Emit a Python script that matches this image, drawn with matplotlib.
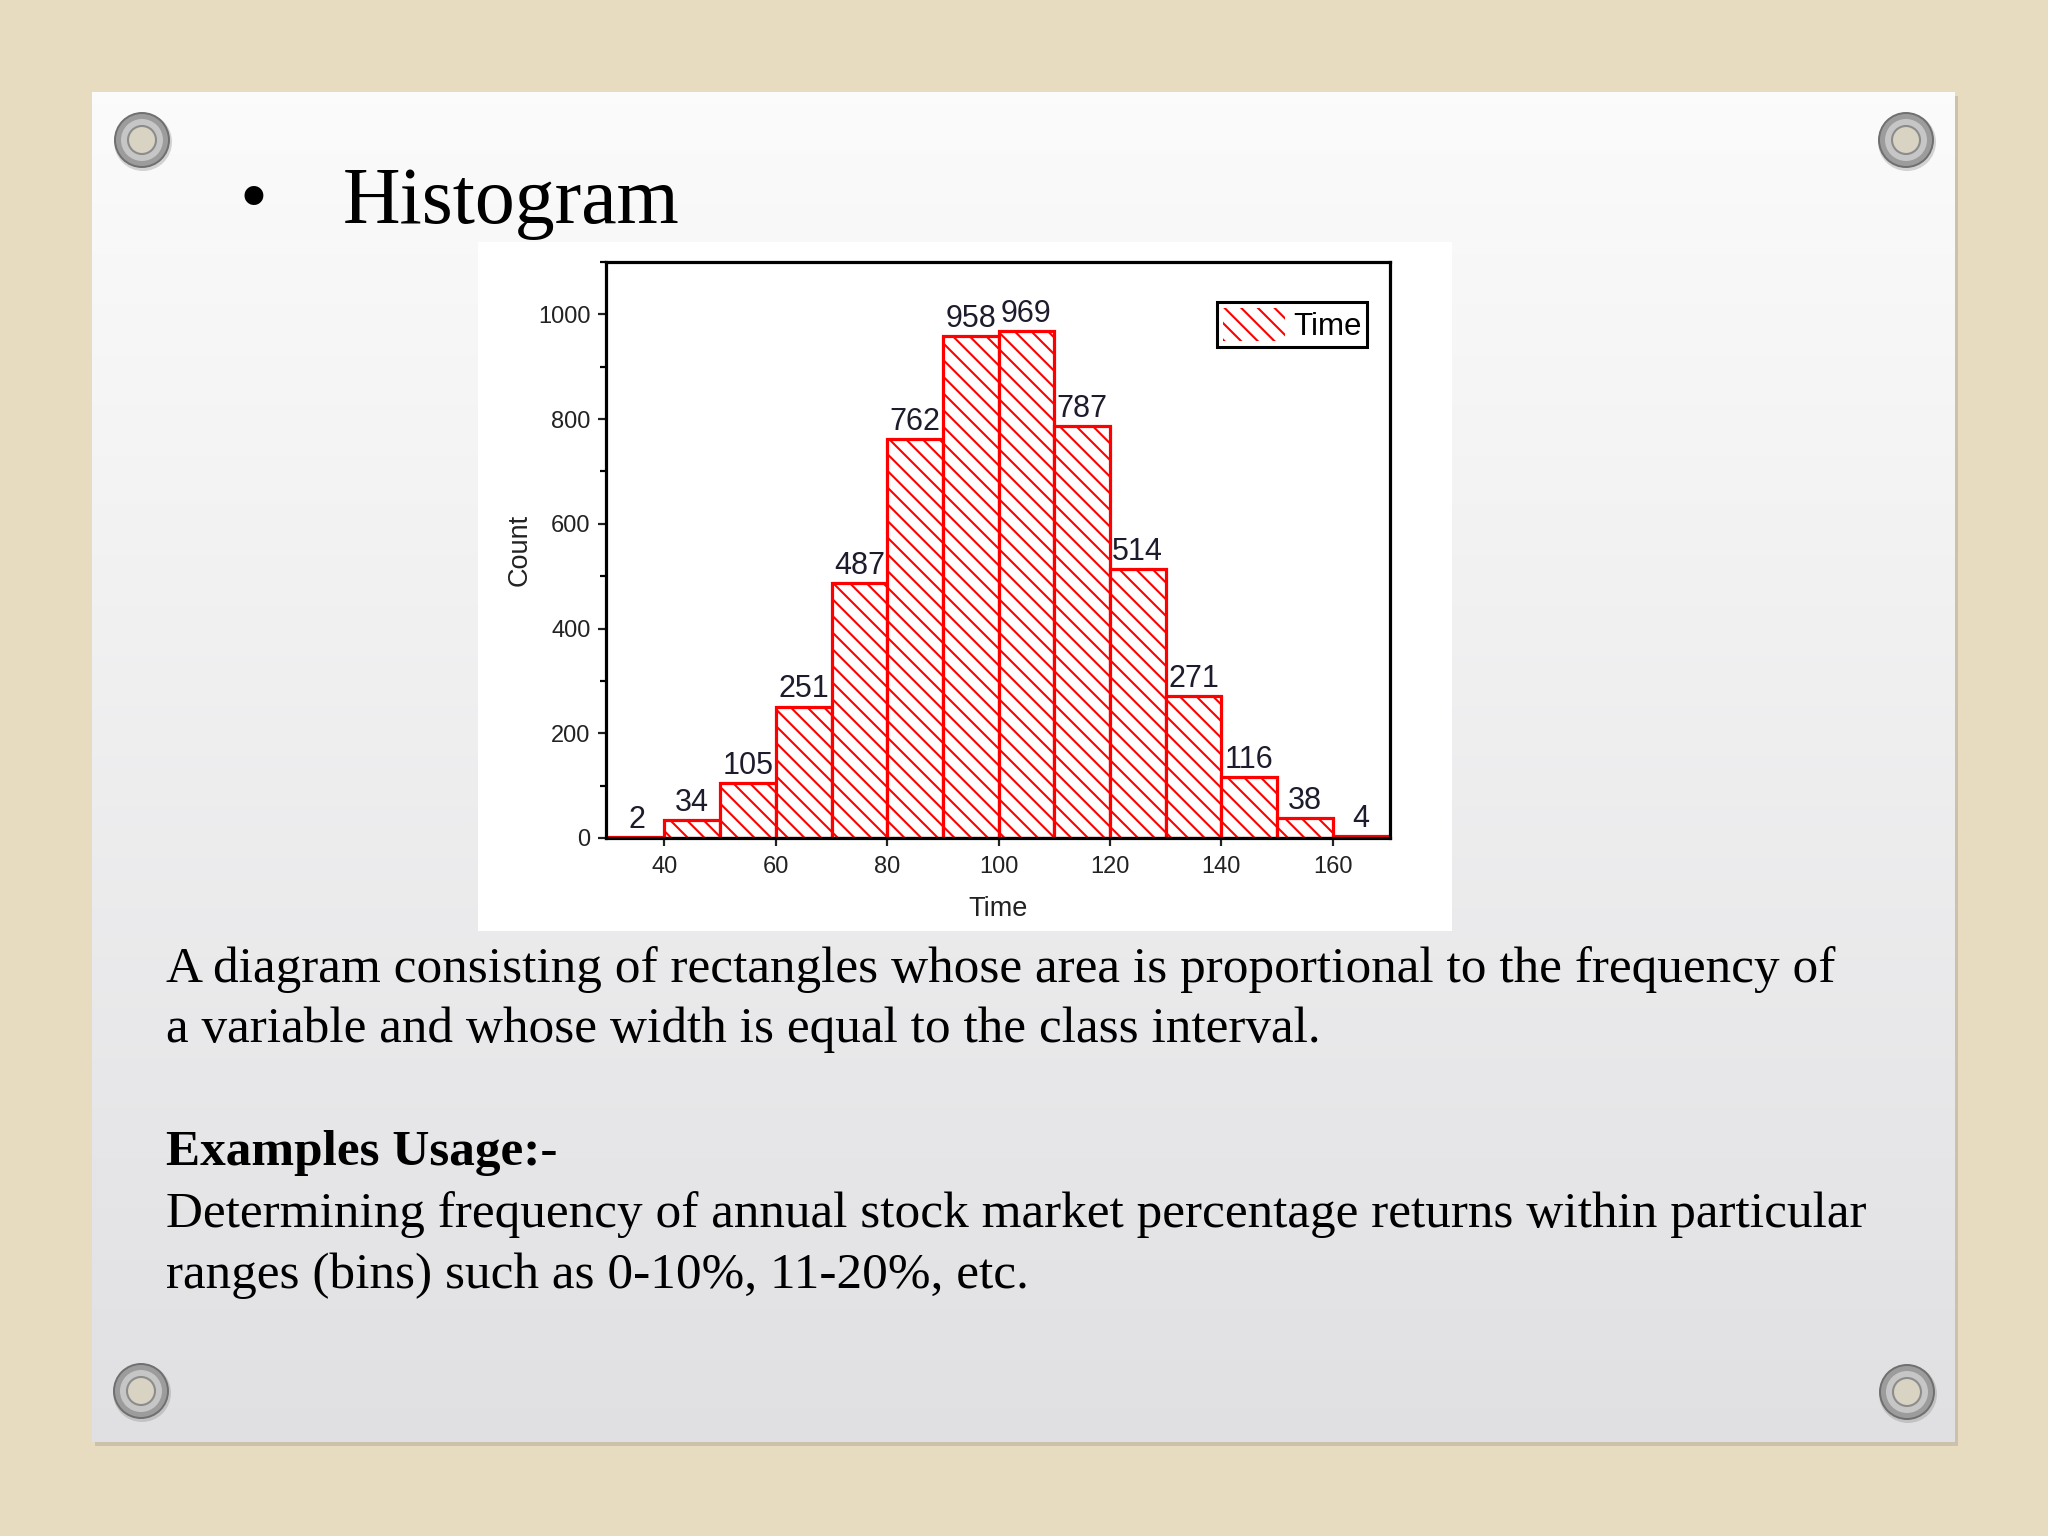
#!/usr/bin/env python3
"""Slide with a hatched histogram of Time counts."""

import matplotlib

matplotlib.use("Agg")
import matplotlib.pyplot as plt
import numpy as np
from matplotlib.patches import Circle, Patch, Rectangle

# --- data -------------------------------------------------------------
bin_left = [30, 40, 50, 60, 70, 80, 90, 100, 110, 120, 130, 140, 150, 160]
bin_width = 10
counts = [2, 34, 105, 251, 487, 762, 958, 969, 787, 514, 271, 116, 38, 4]
x_ticks = [40, 60, 80, 100, 120, 140, 160]
y_ticks = [0, 200, 400, 600, 800, 1000]

title = "Histogram"
body_lines = [
    "A diagram consisting of rectangles whose area is proportional to the frequency of",
    "a variable and whose width is equal to the class interval.",
]
usage_head = "Examples Usage:-"
usage_lines = [
    "Determining frequency of annual stock market percentage returns within particular",
    "ranges (bins) such as 0-10%, 11-20%, etc.",
]

W, H = 2048, 1536
SERIF = "Liberation Serif"
SANS = "Liberation Sans"
RED = "#ff0000"
BODY_SIZE = 36.9

plt.rcParams["hatch.linewidth"] = 1.5

fig = plt.figure(figsize=(W / 100, H / 100), dpi=100)
fig.patch.set_facecolor("#e7dcc0")

# background layer in pixel coordinates
bg = fig.add_axes([0, 0, 1, 1])
bg.axis("off")

# slide panel with a soft vertical gradient
top_col = np.array([0.985, 0.985, 0.985])
bot_col = np.array([0.88, 0.88, 0.89])
t = np.linspace(0, 1, 256)[:, None, None]
grad = top_col * (1 - t) + bot_col * t
grad = np.repeat(grad, 2, axis=1)
bg.add_patch(Rectangle((95, 96), 1863, 1350, facecolor="#9a9488", alpha=0.35,
                       edgecolor="none", zorder=0))
bg.imshow(grad, extent=(92, 1955, 1442, 92), aspect="auto", zorder=1,
          interpolation="bilinear")
bg.set_xlim(0, W)
bg.set_ylim(H, 0)

# grommets
for cx, cy in [(142, 140), (1906, 140), (141, 1391), (1907, 1392)]:
    bg.add_patch(Circle((cx + 1, cy + 2), 29, facecolor="#8a8a8a", alpha=0.35,
                        edgecolor="none", zorder=2))
    bg.add_patch(Circle((cx, cy), 27, facecolor="#9c9c9c", edgecolor="#6f6f6f",
                        linewidth=1.4, zorder=3))
    bg.add_patch(Circle((cx, cy), 21, facecolor="#c6c6c6", edgecolor="none", zorder=4))
    bg.add_patch(Circle((cx, cy), 14, facecolor="#d9d3c3", edgecolor="#8c8c8c",
                        linewidth=1.5, zorder=5))

# white box behind the chart image
bg.add_patch(Rectangle((478, 242), 974, 689, facecolor="white", edgecolor="none",
                       zorder=6))

# title
bg.text(253, 222, "\u2022", fontsize=57, family=SERIF, ha="center",
        va="baseline", zorder=7)
bg.text(343, 223, title, fontsize=57.5, family=SERIF, ha="left", va="baseline",
        zorder=7)

# body text
for i, line in enumerate(body_lines):
    bg.text(166, 982 + 60 * i, line, fontsize=BODY_SIZE, family=SERIF, ha="left",
            va="baseline", zorder=7)
bg.text(166, 1165, usage_head, fontsize=BODY_SIZE, family=SERIF, weight="bold",
        ha="left", va="baseline", zorder=7)
for i, line in enumerate(usage_lines):
    bg.text(166, 1227 + 61 * i, line, fontsize=BODY_SIZE, family=SERIF, ha="left",
            va="baseline", zorder=7)

# --- histogram --------------------------------------------------------
ax = fig.add_axes([606 / W, (H - 838) / H, 784 / W, 576 / H])
ax.set_zorder(8)
ax.patch.set_facecolor("white")

ax.bar(bin_left, counts, width=bin_width, align="edge", facecolor="white",
       edgecolor=RED, hatch="\\\\", linewidth=2.3, zorder=1)

for left, c in zip(bin_left, counts):
    ax.annotate(str(c), (left + bin_width / 2, c), xytext=(0, 1.5),
                textcoords="offset points", ha="center", va="bottom",
                fontsize=22, family=SANS, color="#1c1c2c")

ax.set_xlim(29.5, 170.3)
ax.set_ylim(0, 1095)
ax.set_xticks(x_ticks)
ax.set_yticks(y_ticks)
ax.set_yticks([v + 100 for v in y_ticks[:-1]] + [1100], minor=True)
ax.tick_params(axis="both", which="major", direction="out", length=6, width=1.6,
               labelsize=17, pad=5, colors="#222222")
ax.tick_params(axis="x", which="major", pad=7)
ax.tick_params(axis="y", which="minor", direction="out", length=4, width=1.6)
ax.tick_params(top=False, right=False)
for lab in ax.get_xticklabels() + ax.get_yticklabels():
    lab.set_family(SANS)
for spine in ax.spines.values():
    spine.set_linewidth(2.3)
    spine.set_color("black")

ax.set_xlabel("Time", fontsize=19.5, family=SANS, labelpad=13, color="#222222")
ax.set_ylabel("Count", fontsize=19.5, family=SANS, labelpad=4, color="#222222")

handle = Patch(facecolor="white", edgecolor=RED, hatch="\\\\", linewidth=0)
leg = ax.legend([handle], ["Time"], loc="upper right",
                bbox_to_anchor=((1367 - 606) / 784, (838 - 302) / 576),
                borderaxespad=0, fancybox=False, framealpha=1,
                prop={"family": SANS, "size": 22.5}, handlelength=2.0,
                handleheight=1.25, handletextpad=0.25, borderpad=0.18)
leg.get_frame().set_edgecolor("black")
leg.get_frame().set_linewidth(2.2)

fig.savefig("out.png", dpi=100)
